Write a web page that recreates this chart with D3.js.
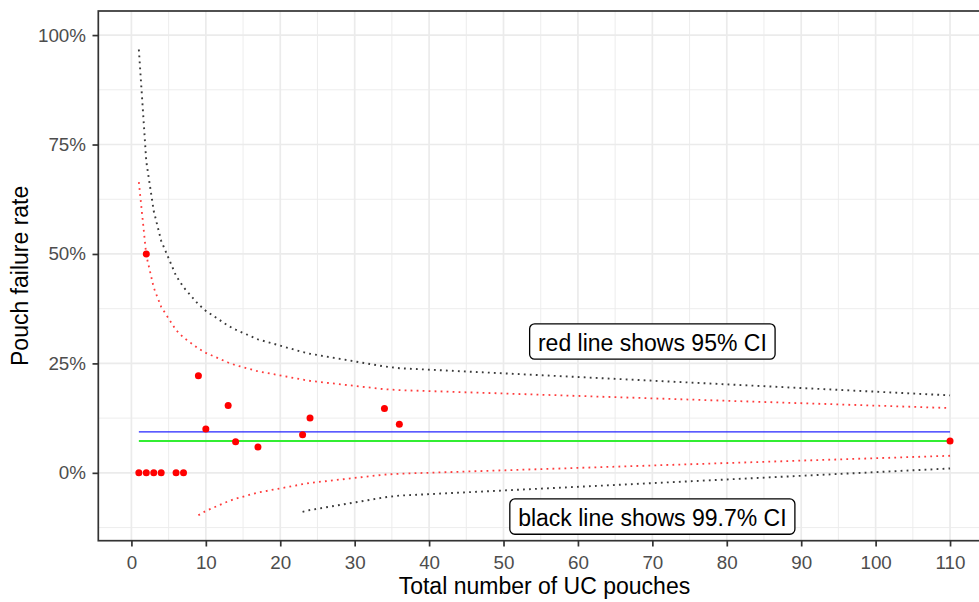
<!DOCTYPE html>
<html>
<head>
<meta charset="utf-8">
<script src="https://cdn.jsdelivr.net/npm/d3@7"></script>
<style>
  html, body { margin: 0; padding: 0; background: #fff; }
  svg { display: block; }
  text { font-family: "Liberation Sans", Arial, sans-serif; }
</style>
</head>
<body>
<svg id="chart" width="979" height="602"></svg>
<script>
// ---- data ----
const pouchN    = [1, 2, 3, 4, 6, 7, 2, 9, 13, 10, 14, 17, 23, 24, 34, 36, 110];
const failRate  = [0, 0, 0, 0, 0, 0, 0.5, 0.222, 0.154, 0.100, 0.071, 0.059, 0.087, 0.125, 0.147, 0.111, 0.073];

const limitN    = [1, 2, 3, 4, 6, 7, 9, 10, 13, 14, 17, 23, 24, 34, 36, 110];
const upper95   = [0.664, 0.497, 0.423, 0.379, 0.326, 0.309, 0.284, 0.274, 0.252, 0.246, 0.232, 0.213, 0.210, 0.191, 0.189, 0.148];
const lower95   = [null, null, null, null, null, null, -0.097, -0.087, -0.065, -0.059, -0.045, -0.026, -0.023, -0.004, -0.002, 0.039];
const upper997  = [0.967, 0.711, 0.598, 0.530, 0.450, 0.424, 0.385, 0.370, 0.336, 0.327, 0.305, 0.276, 0.272, 0.243, 0.239, 0.177];
const lower997  = [null, null, null, null, null, null, null, null, null, null, null, -0.089, -0.085, -0.056, -0.052, 0.010];

const hlineValues = [0.0935, 0.0727];   // blue, green
const hlineFrom   = 1;
const hlineTo     = 110;

const labelTexts = ["red line shows 95% CI", "black line shows 99.7% CI"];
const labelX     = [70, 70];
const labelY     = [0.30, -0.10];

const xTicks     = [0, 10, 20, 30, 40, 50, 60, 70, 80, 90, 100, 110];
const xMinor     = [5, 15, 25, 35, 45, 55, 65, 75, 85, 95, 105, 115];
const yTicks     = [0, 0.25, 0.5, 0.75, 1.0];
const yTickLabels= ["0%", "25%", "50%", "75%", "100%"];
const yMinor     = [-0.125, 0.125, 0.375, 0.625, 0.875];

const xTitle = "Total number of UC pouches";
const yTitle = "Pouch failure rate";

// ---- layout ----
const svg = d3.select("#chart");
const panel = { left: 98.3, top: 11, right: 990.6, bottom: 540.7 };

const x = d3.scaleLinear().domain([-4.45, 115.45]).range([panel.left, panel.right]);
const y = d3.scaleLinear().domain([-0.155, 1.055]).range([panel.bottom, panel.top]);

const defs = svg.append("defs");
defs.append("clipPath").attr("id", "clip")
  .append("rect")
  .attr("x", panel.left).attr("y", panel.top)
  .attr("width", panel.right - panel.left).attr("height", panel.bottom - panel.top);

const plot = svg.append("g").attr("clip-path", "url(#clip)");

// background
plot.append("rect")
  .attr("x", panel.left).attr("y", panel.top)
  .attr("width", panel.right - panel.left).attr("height", panel.bottom - panel.top)
  .attr("fill", "#fff");

// grid
const grid = plot.append("g");
grid.selectAll(".xminor").data(xMinor).enter().append("line")
  .attr("x1", d => x(d)).attr("x2", d => x(d))
  .attr("y1", panel.top).attr("y2", panel.bottom)
  .attr("stroke", "#EBEBEB").attr("stroke-width", 0.9);
grid.selectAll(".yminor").data(yMinor).enter().append("line")
  .attr("y1", d => y(d)).attr("y2", d => y(d))
  .attr("x1", panel.left).attr("x2", panel.right)
  .attr("stroke", "#EBEBEB").attr("stroke-width", 0.9);
grid.selectAll(".xmajor").data(xTicks).enter().append("line")
  .attr("x1", d => x(d)).attr("x2", d => x(d))
  .attr("y1", panel.top).attr("y2", panel.bottom)
  .attr("stroke", "#EBEBEB").attr("stroke-width", 1.7);
grid.selectAll(".ymajor").data(yTicks).enter().append("line")
  .attr("y1", d => y(d)).attr("y2", d => y(d))
  .attr("x1", panel.left).attr("x2", panel.right)
  .attr("stroke", "#EBEBEB").attr("stroke-width", 1.7);

// horizontal reference lines
const hColors = ["#2525ff", "#33ee33"];
const hWidths = [1.4, 2.0];
hlineValues.forEach((v, i) => {
  plot.append("line")
    .attr("x1", x(hlineFrom)).attr("x2", x(hlineTo))
    .attr("y1", y(v)).attr("y2", y(v))
    .attr("stroke", hColors[i]).attr("stroke-width", hWidths[i]);
});

// funnel limits
const line = d3.line()
  .defined(d => d[1] !== null)
  .x(d => x(d[0])).y(d => y(d[1]));

const limits = [
  { vals: upper997, color: "#3a3a3a", w: 1.9 },
  { vals: lower997, color: "#3a3a3a", w: 1.9 },
  { vals: upper95,  color: "#ff3b3b", w: 1.8 },
  { vals: lower95,  color: "#ff3b3b", w: 1.8 }
];
limits.forEach(l => {
  const pts = limitN.map((n, i) => [n, l.vals[i]]);
  plot.append("path")
    .attr("d", line(pts))
    .attr("fill", "none")
    .attr("stroke", l.color)
    .attr("stroke-width", l.w)
    .attr("stroke-dasharray", "1.8 4.2");
});

// points
plot.selectAll(".pt").data(pouchN.map((n, i) => [n, failRate[i]])).enter()
  .append("circle")
  .attr("cx", d => x(d[0])).attr("cy", d => y(d[1]))
  .attr("r", 3.5)
  .attr("fill", "#ff0000");

// labels
labelTexts.forEach((t, i) => {
  const g = plot.append("g");
  const cx = x(labelX[i]), cy = y(labelY[i]);
  const rect = g.append("rect");
  const txt = g.append("text")
    .attr("x", cx).attr("y", cy + 9.3)
    .attr("text-anchor", "middle")
    .attr("font-size", 23)
    .attr("fill", "#000")
    .text(t);
  const w = txt.node().getComputedTextLength() + 16.6;
  const h = 35.3;
  rect.attr("x", cx - w / 2).attr("y", cy - h / 2)
    .attr("width", w).attr("height", h)
    .attr("rx", 5).attr("ry", 5)
    .attr("fill", "#fff").attr("stroke", "#000").attr("stroke-width", 1.3);
});

// panel border
svg.append("rect")
  .attr("x", panel.left).attr("y", panel.top)
  .attr("width", panel.right - panel.left).attr("height", panel.bottom - panel.top)
  .attr("fill", "none").attr("stroke", "#333333").attr("stroke-width", 1.7);

// axes
const xAxis = d3.axisBottom(x).tickValues(xTicks).tickSize(5.8).tickPadding(9.5).tickFormat(d3.format("d"));
const gx = svg.append("g").attr("transform", `translate(0,${panel.bottom})`).call(xAxis);
gx.select(".domain").remove();
gx.selectAll(".tick line").attr("stroke", "#333333").attr("stroke-width", 1.7);
gx.selectAll(".tick text").attr("fill", "#4D4D4D").attr("font-size", 18.8)
  .attr("font-family", "Liberation Sans, Arial, sans-serif");

const yAxis = d3.axisLeft(y).tickValues(yTicks).tickSize(5.8).tickPadding(6.5)
  .tickFormat((d, i) => yTickLabels[i]);
const gy = svg.append("g").attr("transform", `translate(${panel.left},0)`).call(yAxis);
gy.select(".domain").remove();
gy.selectAll(".tick line").attr("stroke", "#333333").attr("stroke-width", 1.7);
gy.selectAll(".tick text").attr("fill", "#4D4D4D").attr("font-size", 18.8)
  .attr("font-family", "Liberation Sans, Arial, sans-serif");

// titles
svg.append("text")
  .attr("x", (panel.left + panel.right) / 2).attr("y", 594)
  .attr("text-anchor", "middle").attr("font-size", 23).attr("fill", "#000")
  .text(xTitle);
svg.append("text")
  .attr("transform", `translate(27.5,${(panel.top + panel.bottom) / 2}) rotate(-90)`)
  .attr("text-anchor", "middle").attr("font-size", 23).attr("fill", "#000")
  .text(yTitle);
</script>
</body>
</html>
